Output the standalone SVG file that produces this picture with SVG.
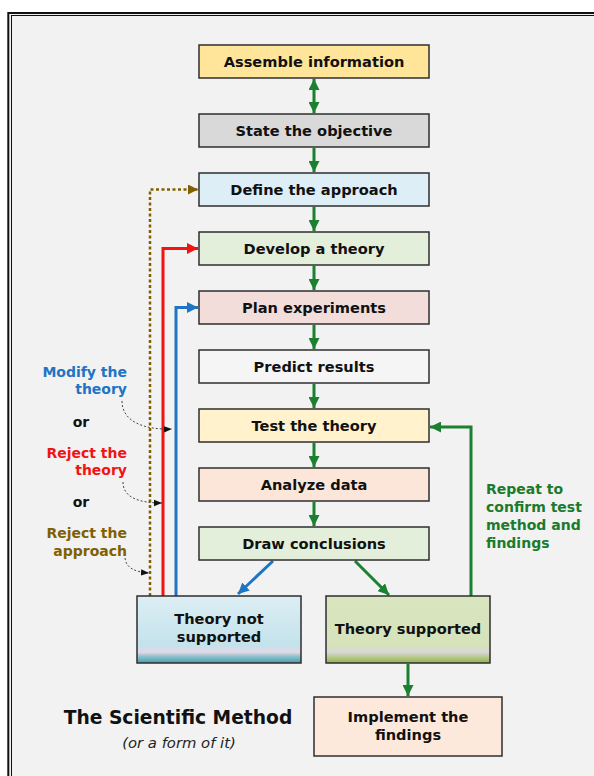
<svg xmlns="http://www.w3.org/2000/svg" width="594" height="776" viewBox="0 0 594 776">
<defs>
<style>
.box{stroke:#2e2e2e;stroke-width:1.5}
.bt{font-family:"DejaVu Sans",Verdana,sans-serif;font-weight:bold;font-size:14.6px;fill:#111;text-anchor:middle}
.lb{font-family:"DejaVu Sans",Verdana,sans-serif;font-weight:bold;font-size:14px}
.g{stroke:#1b8030;stroke-width:3;fill:none}
</style>
<marker id="ag" viewBox="0 0 10 10" refX="10" refY="5" markerWidth="11" markerHeight="11" markerUnits="userSpaceOnUse" orient="auto-start-reverse"><path d="M0,0 L10,5 L0,10 z" fill="#1b8030"/></marker>
<marker id="ab" viewBox="0 0 10 10" refX="10" refY="5" markerWidth="11" markerHeight="11" markerUnits="userSpaceOnUse" orient="auto"><path d="M0,0 L10,5 L0,10 z" fill="#1f75c4"/></marker>
<marker id="ar" viewBox="0 0 10 10" refX="10" refY="5" markerWidth="11" markerHeight="11" markerUnits="userSpaceOnUse" orient="auto"><path d="M0,0 L10,5 L0,10 z" fill="#f01414"/></marker>
<marker id="an" viewBox="0 0 10 10" refX="10" refY="5" markerWidth="10" markerHeight="10" markerUnits="userSpaceOnUse" orient="auto"><path d="M0,0 L10,5 L0,10 z" fill="#7f6000"/></marker>
<marker id="ak" viewBox="0 0 10 10" refX="10" refY="5" markerWidth="8" markerHeight="8" markerUnits="userSpaceOnUse" orient="auto"><path d="M0,1 L10,5 L0,9 z" fill="#111"/></marker>
<linearGradient id="gns" x1="0" y1="0" x2="0" y2="1">
<stop offset="0" stop-color="#ddeef4"/><stop offset="0.74" stop-color="#c4e2eb"/><stop offset="0.84" stop-color="#e4d8e6"/><stop offset="0.9" stop-color="#8cc3cf"/><stop offset="1" stop-color="#4c9cac"/>
</linearGradient>
<linearGradient id="gs" x1="0" y1="0" x2="0" y2="1">
<stop offset="0" stop-color="#d9e5bf"/><stop offset="0.74" stop-color="#d6e2ba"/><stop offset="0.84" stop-color="#d8d8d8"/><stop offset="0.9" stop-color="#bccd92"/><stop offset="1" stop-color="#94b253"/>
</linearGradient>
</defs>
<rect x="0" y="0" width="594" height="776" fill="#ffffff"/>
<rect x="8.3" y="13" width="700" height="800" fill="#f2f2f2" stroke="#111" stroke-width="2"/>
<rect x="11.5" y="15.5" width="700" height="800" fill="none" stroke="#111" stroke-width="1"/>

<g id="connectors">
<line class="g" x1="314" y1="79" x2="314" y2="113" marker-start="url(#ag)" marker-end="url(#ag)"/>
<line class="g" x1="314" y1="148" x2="314" y2="172" marker-end="url(#ag)"/>
<line class="g" x1="314" y1="207" x2="314" y2="231" marker-end="url(#ag)"/>
<line class="g" x1="314" y1="266" x2="314" y2="290" marker-end="url(#ag)"/>
<line class="g" x1="314" y1="325" x2="314" y2="349" marker-end="url(#ag)"/>
<line class="g" x1="314" y1="384" x2="314" y2="408" marker-end="url(#ag)"/>
<line class="g" x1="314" y1="443" x2="314" y2="467" marker-end="url(#ag)"/>
<line class="g" x1="314" y1="502" x2="314" y2="526" marker-end="url(#ag)"/>
<line x1="273" y1="561" x2="238" y2="594" stroke="#1f75c4" stroke-width="3" marker-end="url(#ab)"/>
<line class="g" x1="355" y1="561" x2="389" y2="595" marker-end="url(#ag)"/>
<line class="g" x1="408" y1="664" x2="408" y2="696" marker-end="url(#ag)"/>
<polyline class="g" points="471,596 471,427 430,427" marker-end="url(#ag)"/>
<polyline points="163,596 163,248.5 198,248.5" fill="none" stroke="#f01414" stroke-width="3" marker-end="url(#ar)"/>
<polyline points="176,596 176,307.5 198,307.5" fill="none" stroke="#1f75c4" stroke-width="3" marker-end="url(#ab)"/>
<polyline points="150,596 150,189.5 198,189.5" fill="none" stroke="#7f6000" stroke-width="2.5" stroke-dasharray="3,2.5" marker-end="url(#an)"/>
<path d="M122,401 C122,422 145,430 172,429" fill="none" stroke="#444" stroke-width="1" stroke-dasharray="2,2" marker-end="url(#ak)"/>
<path d="M123,482 C123,498 140,503 162,503" fill="none" stroke="#444" stroke-width="1" stroke-dasharray="2,2" marker-end="url(#ak)"/>
<path d="M125,558 C126,568 135,572 149,573" fill="none" stroke="#444" stroke-width="1" stroke-dasharray="2,2" marker-end="url(#ak)"/>
</g>

<g id="n1"><rect class="box" x="199" y="45" width="230" height="33" fill="#fee599"/><text class="bt" x="314" y="66.5">Assemble information</text></g>
<g id="n2"><rect class="box" x="199" y="114" width="230" height="33" fill="#d9d9d9"/><text class="bt" x="314" y="135.5">State the objective</text></g>
<g id="n3"><rect class="box" x="199" y="173" width="230" height="33" fill="#ddeef7"/><text class="bt" x="314" y="194.5">Define the approach</text></g>
<g id="n4"><rect class="box" x="199" y="232" width="230" height="33" fill="#e3efdb"/><text class="bt" x="314" y="253.5">Develop a theory</text></g>
<g id="n5"><rect class="box" x="199" y="291" width="230" height="33" fill="#f2dddb"/><text class="bt" x="314" y="312.5">Plan experiments</text></g>
<g id="n6"><rect class="box" x="199" y="350" width="230" height="33" fill="#f5f5f5"/><text class="bt" x="314" y="371.5">Predict results</text></g>
<g id="n7"><rect class="box" x="199" y="409" width="230" height="33" fill="#fff2cc"/><text class="bt" x="314" y="430.5">Test the theory</text></g>
<g id="n8"><rect class="box" x="199" y="468" width="230" height="33" fill="#fce6d9"/><text class="bt" x="314" y="489.5">Analyze data</text></g>
<g id="n9"><rect class="box" x="199" y="527" width="230" height="33" fill="#e3efdb"/><text class="bt" x="314" y="548.5">Draw conclusions</text></g>
<g id="n10"><rect class="box" x="137" y="596" width="164" height="67" fill="url(#gns)"/><text class="bt" x="219" y="624">Theory not</text><text class="bt" x="219" y="642">supported</text></g>
<g id="n11"><rect class="box" x="326" y="596" width="164" height="67" fill="url(#gs)"/><text class="bt" x="408" y="634">Theory supported</text></g>
<g id="n12"><rect class="box" x="314" y="697" width="188" height="59" fill="#fde9dc"/><text class="bt" x="408" y="722">Implement the</text><text class="bt" x="408" y="740">findings</text></g>

<g id="labels">
<text class="lb" x="127" y="377" text-anchor="end" fill="#2174c2">Modify the</text>
<text class="lb" x="127" y="394" text-anchor="end" fill="#2174c2">theory</text>
<text class="lb" x="81" y="427" text-anchor="middle" fill="#111">or</text>
<text class="lb" x="127" y="458" text-anchor="end" fill="#f01414">Reject the</text>
<text class="lb" x="127" y="475" text-anchor="end" fill="#f01414">theory</text>
<text class="lb" x="81" y="507" text-anchor="middle" fill="#111">or</text>
<text class="lb" x="127" y="538" text-anchor="end" fill="#806000">Reject the</text>
<text class="lb" x="127" y="556" text-anchor="end" fill="#806000">approach</text>
<text class="lb" x="486" y="494" fill="#1b7a2c">Repeat to</text>
<text class="lb" x="486" y="512" fill="#1b7a2c">confirm test</text>
<text class="lb" x="486" y="530" fill="#1b7a2c">method and</text>
<text class="lb" x="486" y="548" fill="#1b7a2c">findings</text>
<text x="178" y="724" text-anchor="middle" font-family="'DejaVu Sans',Verdana,sans-serif" font-weight="bold" font-size="18.7" fill="#111">The Scientific Method</text>
<text x="179" y="748" text-anchor="middle" font-family="'DejaVu Sans',Verdana,sans-serif" font-style="italic" font-size="14.8" fill="#222">(or a form of it)</text>
</g>
</svg>
